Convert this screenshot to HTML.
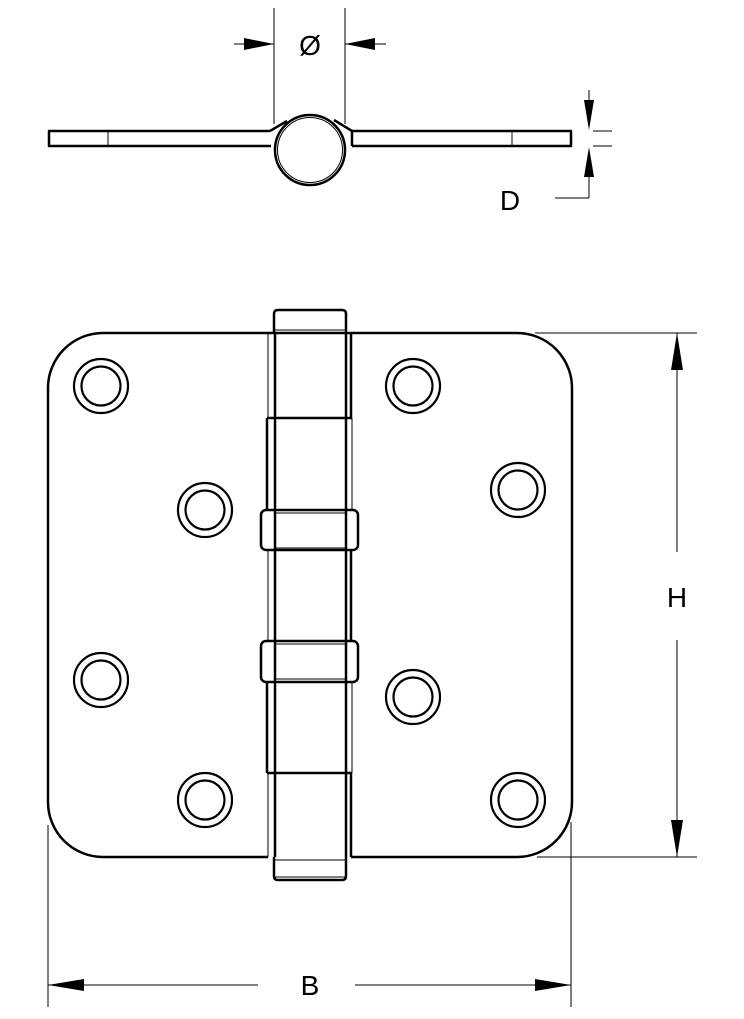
<!DOCTYPE html>
<html><head><meta charset="utf-8"><style>
html,body{margin:0;padding:0;background:#fff;}
svg{display:block;}
text{font-family:"Liberation Sans",sans-serif;fill:#000;}
</style></head><body>
<svg width="744" height="1019" viewBox="0 0 744 1019" xmlns="http://www.w3.org/2000/svg">
<g fill="none" stroke="#000" stroke-linejoin="round">
<!-- TOP VIEW -->
<!-- dimension Ø -->
<line x1="274" y1="8" x2="274" y2="124" stroke-width="1"/>
<line x1="345" y1="8" x2="345" y2="124" stroke-width="1"/>
<line x1="234" y1="44" x2="274" y2="44" stroke-width="1"/>
<line x1="345" y1="44" x2="386" y2="44" stroke-width="1"/>
<!-- plates -->
<path d="M270,131 L49,131 L49,146 L271,146" stroke-width="2.5"/>
<line x1="108" y1="131" x2="108" y2="146" stroke-width="1"/>
<path d="M270,131 L287,121" stroke-width="2.5"/>
<path d="M352,146 L352,131 L571,131 L571,146 L352,146" stroke-width="2.5"/>
<path d="M352,131 L334,120" stroke-width="2.5"/>
<line x1="512" y1="131" x2="512" y2="146" stroke-width="1"/>
<circle cx="310" cy="150" r="35" stroke-width="2.5"/>
<circle cx="310" cy="150" r="32.5" stroke-width="1"/>
<!-- D dimension -->
<line x1="589" y1="90" x2="589" y2="112" stroke-width="1"/>
<line x1="589" y1="165" x2="589" y2="198" stroke-width="1"/>
<line x1="555" y1="198" x2="589" y2="198" stroke-width="1"/>
<line x1="593" y1="131" x2="612" y2="131" stroke-width="1"/>
<line x1="593" y1="146" x2="612" y2="146" stroke-width="1"/>

<!-- FRONT VIEW plates -->
<path d="M268,333 L103,333 A55,55 0 0 0 48,388 L48,802 A55,55 0 0 0 103,857 L268,857" stroke-width="2.5"/>
<path d="M351,333 L517,333 A55,55 0 0 1 572,388 L572,802 A55,55 0 0 1 517,857 L351,857" stroke-width="2.5"/>
<!-- left plate edge -->
<line x1="268" y1="333" x2="268" y2="418" stroke-width="1"/>
<line x1="267" y1="418" x2="267" y2="510" stroke-width="2.5"/>
<line x1="268" y1="550" x2="268" y2="641" stroke-width="1"/>
<line x1="267" y1="682" x2="267" y2="773" stroke-width="2.5"/>
<line x1="268" y1="773" x2="268" y2="857" stroke-width="1"/>
<!-- right plate edge -->
<line x1="351" y1="333" x2="351" y2="418" stroke-width="2.5"/>
<line x1="352" y1="418" x2="352" y2="510" stroke-width="1"/>
<line x1="351" y1="550" x2="351" y2="641" stroke-width="2.5"/>
<line x1="352" y1="682" x2="352" y2="773" stroke-width="1"/>
<line x1="351" y1="773" x2="351" y2="857" stroke-width="2.5"/>
<!-- knuckle -->
<path d="M274,333 L274,314 Q274,310 278,310 L342,310 Q346,310 346,314 L346,333" stroke-width="2.5"/>
<line x1="275" y1="330" x2="345" y2="330" stroke-width="1"/>
<line x1="268" y1="333" x2="351" y2="333" stroke-width="2.5"/>
<line x1="275" y1="333" x2="275" y2="857" stroke-width="2.5"/>
<line x1="346" y1="333" x2="346" y2="857" stroke-width="2.5"/>
<line x1="267" y1="418" x2="352" y2="418" stroke-width="2.5"/>
<rect x="261" y="510" width="97" height="40" rx="5" stroke-width="2.5"/>
<line x1="275" y1="513" x2="346" y2="513" stroke-width="1"/>
<line x1="275" y1="548" x2="346" y2="548" stroke-width="1"/>
<rect x="261" y="641" width="97" height="41" rx="5" stroke-width="2.5"/>
<line x1="275" y1="644" x2="346" y2="644" stroke-width="1"/>
<line x1="275" y1="679" x2="346" y2="679" stroke-width="1"/>
<line x1="267" y1="773" x2="352" y2="773" stroke-width="2.5"/>
<path d="M274,857 L274,876 Q274,880 278,880 L342,880 Q346,880 346,876 L346,857" stroke-width="2.5"/>
<line x1="275" y1="860" x2="345" y2="860" stroke-width="1"/>
<line x1="275" y1="877" x2="345" y2="877" stroke-width="1"/>
<!-- holes -->
<g stroke-width="2.2">
<circle cx="101" cy="386" r="27"/><circle cx="101" cy="386" r="19.5"/>
<circle cx="205" cy="510" r="27"/><circle cx="205" cy="510" r="19.5"/>
<circle cx="101" cy="680" r="27"/><circle cx="101" cy="680" r="19.5"/>
<circle cx="205" cy="800" r="27"/><circle cx="205" cy="800" r="19.5"/>
<circle cx="413" cy="386" r="27"/><circle cx="413" cy="386" r="19.5"/>
<circle cx="518" cy="490" r="27"/><circle cx="518" cy="490" r="19.5"/>
<circle cx="413" cy="697" r="27"/><circle cx="413" cy="697" r="19.5"/>
<circle cx="518" cy="800" r="27"/><circle cx="518" cy="800" r="19.5"/>
</g>
<!-- H dimension -->
<line x1="535" y1="333" x2="697" y2="333" stroke-width="1"/>
<line x1="537" y1="857" x2="697" y2="857" stroke-width="1"/>
<line x1="677" y1="333" x2="677" y2="552" stroke-width="1"/>
<line x1="677" y1="640" x2="677" y2="857" stroke-width="1"/>
<!-- B dimension -->
<line x1="48" y1="825" x2="48" y2="1007" stroke-width="1"/>
<line x1="571" y1="822" x2="571" y2="1007" stroke-width="1"/>
<line x1="48" y1="985" x2="258" y2="985" stroke-width="1"/>
<line x1="355" y1="985" x2="571" y2="985" stroke-width="1"/>
</g>
<!-- arrowheads -->
<g fill="#000" stroke="none">
<polygon points="274,44 244,38 244,50"/>
<polygon points="345,44 375,38 375,50"/>
<polygon points="589,130 584,100 594,100"/>
<polygon points="589,147 584,177 594,177"/>
<polygon points="677,333 671,370 683,370"/>
<polygon points="677,857 671,820 683,820"/>
<polygon points="48,985 84,979 84,991"/>
<polygon points="571,985 535,979 535,991"/>
</g>
<text x="310" y="55" font-size="28" text-anchor="middle">Ø</text>
<text x="510" y="210" font-size="28" text-anchor="middle">D</text>
<text x="677" y="607" font-size="28" text-anchor="middle">H</text>
<text x="310" y="995" font-size="28" text-anchor="middle">B</text>
</svg>
</body></html>
